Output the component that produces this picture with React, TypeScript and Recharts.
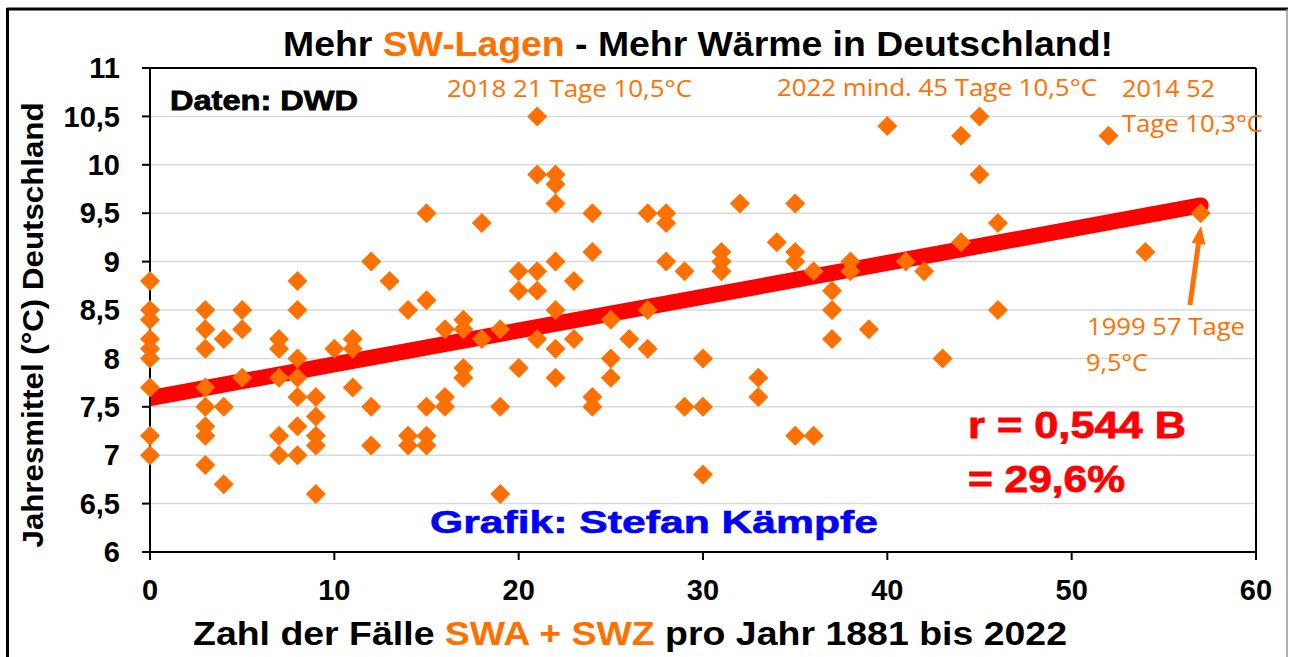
import React from 'react';
import { ScatterChart, Scatter, XAxis, YAxis, CartesianGrid, ReferenceLine } from 'recharts';

// Number of SWA + SWZ days per year (x) and German annual mean temperature (y), 1881-2022
const swCounts = [
  0, 0, 0, 0, 0, 0, 0, 0, 0,
  3, 3, 3, 3, 3, 3, 3, 3,
  4, 4, 4,
  5, 5, 5,
  7, 7, 7, 7, 7,
  8, 8, 8, 8, 8, 8, 8,
  9, 9, 9, 9, 9,
  10,
  11, 11, 11,
  12, 12, 12,
  13,
  14, 14, 14,
  15, 15, 15, 15, 15,
  16, 16, 16,
  17, 17, 17, 17,
  18, 18,
  19, 19, 19,
  20, 20, 20,
  21, 21, 21, 21, 21,
  22, 22, 22, 22, 22, 22, 22,
  23, 23,
  24, 24, 24, 24,
  25, 25, 25,
  26,
  27, 27, 27,
  28, 28, 28,
  29, 29,
  30, 30, 30,
  31, 31, 31,
  32,
  33, 33,
  34,
  35, 35, 35, 35,
  36, 36,
  37, 37, 37,
  38, 38,
  39,
  40,
  41,
  42,
  43,
  44, 44,
  45, 45,
  46, 46,
  52,
  54,
  57,
];

const meanTemps = [
  8.8, 8.5, 8.4, 8.2, 8.1, 8.0, 7.7, 7.2, 7.0,
  8.5, 8.3, 8.1, 7.7, 7.5, 7.3, 7.2, 6.9,
  8.2, 7.5, 6.7,
  8.5, 8.3, 7.8,
  8.2, 8.1, 7.8, 7.2, 7.0,
  8.8, 8.5, 8.0, 7.8, 7.6, 7.3, 7.0,
  7.6, 7.4, 7.2, 7.1, 6.6,
  8.1,
  8.2, 8.1, 7.7,
  9.0, 7.5, 7.1,
  8.8,
  8.5, 7.2, 7.1,
  9.5, 8.6, 7.5, 7.2, 7.1,
  8.3, 7.6, 7.5,
  8.4, 8.3, 7.9, 7.8,
  9.4, 8.2,
  8.3, 7.5, 6.6,
  8.9, 8.7, 7.9,
  10.5, 9.9, 8.9, 8.7, 8.2,
  9.9, 9.8, 9.6, 9.0, 8.5, 8.1, 7.8,
  8.8, 8.2,
  9.5, 9.1, 7.6, 7.5,
  8.4, 8.0, 7.8,
  8.2,
  9.5, 8.5, 8.1,
  9.5, 9.4, 9.0,
  8.9, 7.5,
  8.0, 7.5, 6.8,
  9.1, 9.0, 8.9,
  9.6,
  7.8, 7.6,
  9.2,
  9.6, 9.1, 9.0, 7.2,
  8.9, 7.2,
  8.7, 8.5, 8.2,
  9.0, 8.9,
  8.3,
  10.4,
  9.0,
  8.9,
  8.0,
  10.3, 9.2,
  10.5, 9.9,
  9.4, 8.5,
  10.3,
  9.1,
  9.5,
];

// linear trend
const trendX = [0, 57];
const trendY = [7.59, 9.58];

const xTicks = [0, 10, 20, 30, 40, 50, 60];
const yTicks = [6, 6.5, 7, 7.5, 8, 8.5, 9, 9.5, 10, 10.5, 11];

const titleParts = ['Mehr ', 'SW-Lagen', ' - Mehr Wärme in Deutschland!'];
const xLabelParts = ['Zahl der Fälle ', 'SWA + SWZ', ' pro Jahr 1881 bis 2022'];
const yLabel = 'Jahresmittel (°C) Deutschland';
const sourceText = 'Daten: DWD';
const authorText = 'Grafik: Stefan Kämpfe';
const corrLines = ['r = 0,544 B', '= 29,6%'];
const notes = ['2018 21 Tage 10,5°C', '2022 mind. 45 Tage 10,5°C', '2014 52', 'Tage 10,3°C', '1999 57 Tage', '9,5°C'];

const ORANGE = '#FF7000';
const BOLD = "'Liberation Sans', Arial, sans-serif";
const NOTE_FONT = "'Open Sans', 'Noto Sans', sans-serif";

const data = swCounts.map((x, i) => ({ x, y: meanTemps[i] }));

const Diamond = (props: any) => {
  const { cx, cy } = props;
  if (cx == null || cy == null) return null;
  const r = 10;
  return <path d={`M${cx},${cy - r}L${cx + r},${cy}L${cx},${cy + r}L${cx - r},${cy}Z`} fill={ORANGE} />;
};

const fmt = (v: number) => String(v).replace('.', ',');

export default function App() {
  const tickStyle = { fill: '#000', fontSize: 29, fontWeight: 'bold', fontFamily: BOLD } as any;
  return (
    <div style={{ position: 'absolute', left: 0, top: 0, width: 1290, height: 657, background: '#fff', overflow: 'hidden' }}>
      <ScatterChart width={1290} height={657} margin={{ top: 68, right: 34, bottom: 55, left: 90 }}>
        <CartesianGrid vertical={false} stroke="#d9d9d9" strokeWidth={1.5} />
        <XAxis
          type="number"
          dataKey="x"
          domain={[0, 60]}
          ticks={xTicks}
          interval={0}
          height={50}
          axisLine={{ stroke: '#000', strokeWidth: 2 }}
          tickLine={{ stroke: '#000', strokeWidth: 2 }}
          tickSize={8}
          tickMargin={19}
          tick={tickStyle}
        />
        <YAxis
          type="number"
          dataKey="y"
          domain={[6, 11]}
          ticks={yTicks}
          interval={0}
          width={60}
          axisLine={{ stroke: '#000', strokeWidth: 2 }}
          tickLine={{ stroke: '#000', strokeWidth: 2 }}
          tickSize={8}
          tickMargin={22}
          tick={tickStyle}
          tickFormatter={fmt}
        />
        <ReferenceLine y={11} stroke="#000" strokeWidth={2} />
        <ReferenceLine x={60} stroke="#000" strokeWidth={2} />
        <Scatter data={data} shape={<Diamond />} isAnimationActive={false} />
        <ReferenceLine
          segment={[{ x: trendX[0], y: trendY[0] }, { x: trendX[1], y: trendY[1] }]}
          stroke="#FF0000"
          strokeWidth={16}
          strokeLinecap="round"
          ifOverflow="hidden"
        />
      </ScatterChart>
      <svg width={1290} height={657} style={{ position: 'absolute', left: 0, top: 0, pointerEvents: 'none' }}>
        {/* outer frame */}
        <line x1={7} y1={9} x2={1288} y2={9} stroke="#000" strokeWidth={3} />
        <line x1={7.5} y1={8} x2={7.5} y2={660} stroke="#000" strokeWidth={3} />
        <line x1={1287} y1={9} x2={1287} y2={660} stroke="#999" strokeWidth={1.5} />

        <text x={698} y={56} textAnchor="middle" fontFamily={BOLD} fontWeight="bold" fontSize={35} textLength={830} lengthAdjust="spacingAndGlyphs">
          <tspan fill="#000">{titleParts[0]}</tspan>
          <tspan fill={ORANGE}>{titleParts[1]}</tspan>
          <tspan fill="#000">{titleParts[2]}</tspan>
        </text>

        <text x={170} y={110} fontFamily={BOLD} fontWeight="bold" fontSize={28} fill="#000" stroke="#000" strokeWidth={0.8} textLength={188} lengthAdjust="spacingAndGlyphs">{sourceText}</text>

        <g fill={ORANGE} fontFamily={NOTE_FONT} fontSize={24}>
          <text x={447} y={97} textLength={245} lengthAdjust="spacingAndGlyphs">{notes[0]}</text>
          <text x={777} y={96} textLength={320} lengthAdjust="spacingAndGlyphs">{notes[1]}</text>
          <text x={1122} y={97} textLength={93} lengthAdjust="spacingAndGlyphs">{notes[2]}</text>
          <text x={1122} y={132} textLength={141} lengthAdjust="spacingAndGlyphs">{notes[3]}</text>
          <text x={1087} y={335} textLength={158} lengthAdjust="spacingAndGlyphs">{notes[4]}</text>
          <text x={1086} y={371} textLength={62} lengthAdjust="spacingAndGlyphs">{notes[5]}</text>
        </g>

        <path d="M1190,305 L1198.5,243" stroke={ORANGE} strokeWidth={5} fill="none" />
        <path d="M1201,226 L1205.4,244.8 L1191.6,242.8 Z" fill={ORANGE} />

        <g fill="#FF0000" stroke="#FF0000" strokeWidth={0.8} fontFamily={BOLD} fontWeight="bold" fontSize={36}>
          <text x={968} y={438} textLength={218} lengthAdjust="spacingAndGlyphs">{corrLines[0]}</text>
          <text x={968} y={492} textLength={157} lengthAdjust="spacingAndGlyphs">{corrLines[1]}</text>
        </g>

        <text x={430} y={533} fill="#0000FF" stroke="#0000FF" strokeWidth={0.6} fontFamily={BOLD} fontWeight="bold" fontSize={32} textLength={448} lengthAdjust="spacingAndGlyphs">{authorText}</text>

        <text transform="translate(43,325) rotate(-90)" textAnchor="middle" fontFamily={BOLD} fontWeight="bold" fontSize={30} fill="#000" textLength={445} lengthAdjust="spacingAndGlyphs">{yLabel}</text>

        <text x={630} y={645} textAnchor="middle" fontFamily={BOLD} fontWeight="bold" fontSize={33} textLength={874} lengthAdjust="spacingAndGlyphs">
          <tspan fill="#000">{xLabelParts[0]}</tspan>
          <tspan fill={ORANGE}>{xLabelParts[1]}</tspan>
          <tspan fill="#000">{xLabelParts[2]}</tspan>
        </text>
      </svg>
    </div>
  );
}
